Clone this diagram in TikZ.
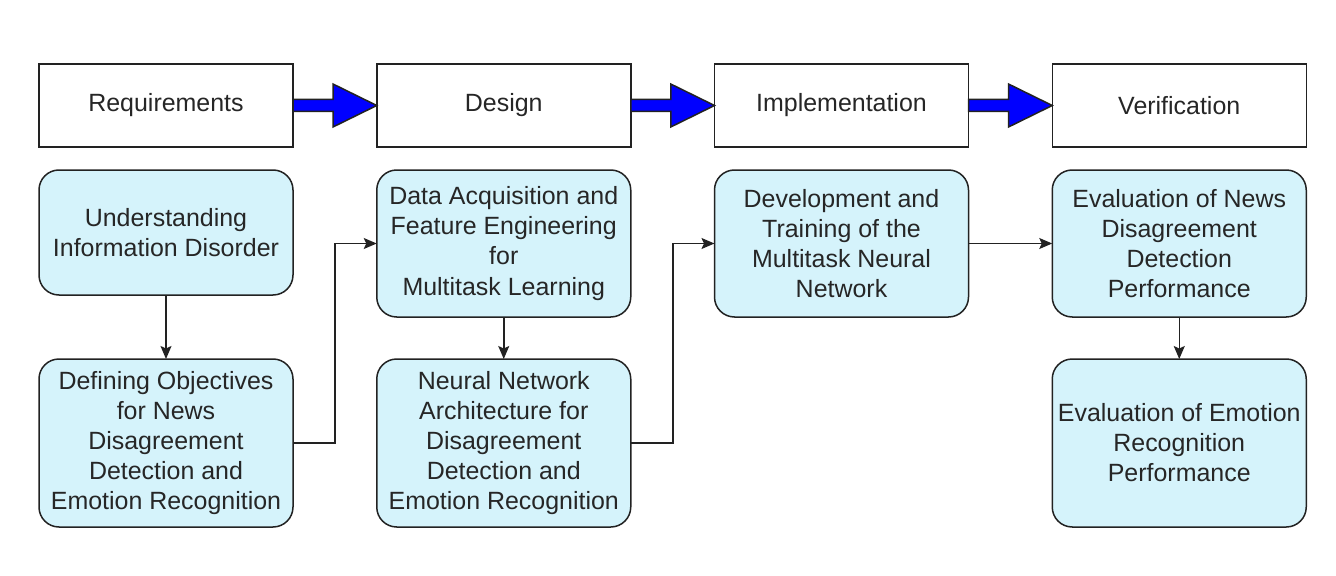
\documentclass[tikz,border=0pt]{standalone}
\usepackage{fontspec}
\setmainfont{Liberation Sans}
\usetikzlibrary{positioning, arrows.meta, calc}
\definecolor{boxfill}{HTML}{D5F3FB}
\definecolor{edgegray}{HTML}{222222}
\tikzset{
>={Stealth[length=0.26cm, width=0.22cm, inset=0.05cm]}, % makes the arrow heads bold
node distance=1.675cm, % gap between two phase boxes
phase/.style={draw=edgegray, fill=white, line width=0.03cm, outer sep=0pt, minimum width=5.08cm, minimum height=1.66cm, text=black!85, font=\fontsize{14.2}{17.1}\selectfont}, % the headings in the top row
task/.style={draw=edgegray, fill=boxfill, rounded corners=0.4cm, line width=0.03cm, outer sep=0pt, minimum width=5.08cm, inner sep=0pt, align=center, text=black!85, font=\fontsize{14.2}{17.1}\selectfont}, % the rounded task boxes
link/.style={->, draw=edgegray, line width=0.03cm}, % thin connectors between tasks
bigarrow/.style={draw=edgegray, fill=blue, line width=0.03cm}, % blue arrows between phases
}
\begin{document}
\begin{tikzpicture}
                \useasboundingbox (0,0) rectangle (26.72,-11.52);
                \node[phase, anchor=north west] (req) at (0.78,-1.28) {Requirements};
                \node[phase, right=of req] (des) {Design};
                \node[phase, right=of des] (imp) {Implementation};
                \node[phase, right=of imp] (ver) {Verification};
                \node[task, minimum height=2.5cm, below=0.46cm of req] (und) {Understanding\\Information Disorder};
                \node[task, minimum height=2.94cm, below=0.46cm of des] (acq) {Data Acquisition and\\Feature Engineering\\for\\Multitask Learning};
                \node[task, minimum height=2.94cm, below=0.46cm of imp] (dev) {Development and\\Training of the\\Multitask Neural\\Network};
                \node[task, minimum height=2.94cm, below=0.46cm of ver] (evnews) {Evaluation of News\\Disagreement\\Detection\\Performance};
                \node[task, minimum height=3.36cm, below=1.28cm of und] (obj) {Defining Objectives\\for News\\Disagreement\\Detection and\\Emotion Recognition};
                \node[task, minimum height=3.36cm, below=0.84cm of acq] (arch) {Neural Network\\Architecture for\\Disagreement\\Detection and\\Emotion Recognition};
                \node[task, minimum height=3.36cm, below=0.84cm of evnews] (evemo) {Evaluation of Emotion\\Recognition\\Performance};
                \foreach \a/\b in {req/des, des/imp, imp/ver}
                    \draw[bigarrow] ($(\a.east)+(0,0.12)$) -- ++(0.8,0) -- ++(0,0.31) -- (\b.west) -- ++(-0.875,-0.43) -- ++(0,0.31) -- ++(-0.8,0) -- cycle;
                \draw[link] (und) -- (obj);
                \draw[link] (acq) -- (arch);
                \draw[link] (evnews) -- (evemo);
                \draw[link] (dev) -- (evnews);
                \draw[link] (obj.east) -- ++(0.84,0) |- (acq.west);
                \draw[link] (arch.east) -- ++(0.84,0) |- (dev.west);
\end{tikzpicture}
\end{document}
